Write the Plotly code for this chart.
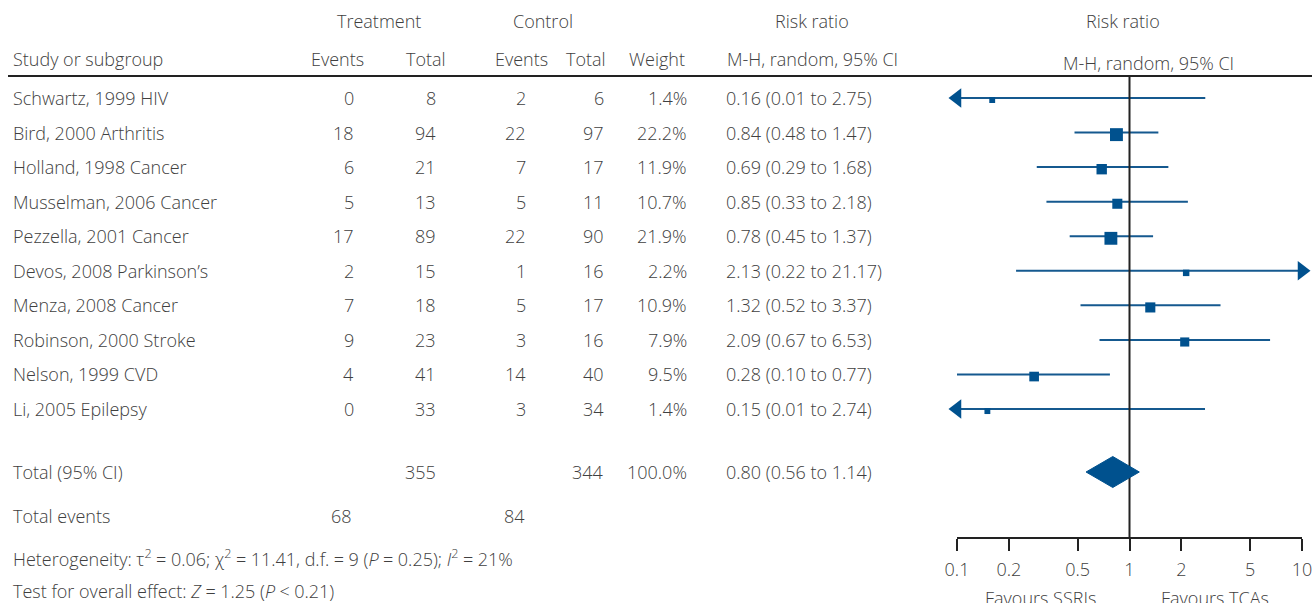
import numpy as np
import plotly.graph_objects as go

# ---------------- data ----------------
studies = ["Schwartz, 1999 HIV", "Bird, 2000 Arthritis", "Holland, 1998 Cancer",
           "Musselman, 2006 Cancer", "Pezzella, 2001 Cancer", "Devos, 2008 Parkinson\u2019s",
           "Menza, 2008 Cancer", "Robinson, 2000 Stroke", "Nelson, 1999 CVD", "Li, 2005 Epilepsy"]
t_events = [0, 18, 6, 5, 17, 2, 7, 9, 4, 0]
t_total = [8, 94, 21, 13, 89, 15, 18, 23, 41, 33]
c_events = [2, 22, 7, 5, 22, 1, 5, 3, 14, 3]
c_total = [6, 97, 17, 11, 90, 16, 17, 16, 40, 34]
weights = [1.4, 22.2, 11.9, 10.7, 21.9, 2.2, 10.9, 7.9, 9.5, 1.4]
rr = [0.16, 0.84, 0.69, 0.85, 0.78, 2.13, 1.32, 2.09, 0.28, 0.15]
ci_lo = [0.01, 0.48, 0.29, 0.33, 0.45, 0.22, 0.52, 0.67, 0.10, 0.01]
ci_hi = [2.75, 1.47, 1.68, 2.18, 1.37, 21.17, 3.37, 6.53, 0.77, 2.74]

total_t, total_c, total_w = 355, 344, 100.0
total_rr, total_lo, total_hi = 0.80, 0.56, 1.14
total_events_t, total_events_c = 68, 84

tick_vals = [0.1, 0.2, 0.5, 1, 2, 5, 10]
tick_text = ["0.1", "0.2", "0.5", "1", "2", "5", "10"]
axis_min, axis_max = 0.1, 10

# ---------------- layout constants ----------------
W, H = 1312, 603
ROW0_PX, ROW_PX = 98.0, 34.56


def row(p):
    return (p - ROW0_PX) / ROW_PX


def px(x):
    return x / W


TXT = "#404040"
BLUE = "#00518e"
LINE_BLUE = "#15598f"
FONT = dict(family="Open Sans, Lato, sans-serif", size=18, color=TXT, weight=300)

n = len(studies)
rows = list(range(n))
r_total = row(472)
r_events = row(516)
r_het = row(558)
r_test = row(591)
r_h2 = row(59)
r_h1 = row(21)
r_rule = row(76)
r_axis = row(538)

fig = go.Figure()

# CI lines (clipped at axis limits)
for i in range(n):
    lo = max(ci_lo[i], axis_min)
    hi = min(ci_hi[i], axis_max)
    fig.add_trace(go.Scatter(x=[lo, hi], y=[rows[i], rows[i]], mode="lines",
                             line=dict(color=LINE_BLUE, width=2), hoverinfo="skip",
                             showlegend=False))

# arrowheads for truncated CIs
left_r = [rows[i] for i in range(n) if ci_lo[i] < axis_min]
right_r = [rows[i] for i in range(n) if ci_hi[i] > axis_max]
fig.add_trace(go.Scatter(x=[axis_min] * len(left_r), y=left_r, mode="markers",
                         marker=dict(symbol="triangle-left", size=17, color=BLUE, opacity=1),
                         cliponaxis=False, showlegend=False, hoverinfo="skip"))
fig.add_trace(go.Scatter(x=[axis_max] * len(right_r), y=right_r, mode="markers",
                         marker=dict(symbol="triangle-right", size=17, color=BLUE, opacity=1),
                         cliponaxis=False, showlegend=False, hoverinfo="skip"))

# point estimates (square size from weight)
sizes = [3.5 + 2.0 * np.sqrt(w) for w in weights]
fig.add_trace(go.Scatter(x=rr, y=[r + 0.06 for r in rows], mode="markers",
                         marker=dict(symbol="square", size=sizes, color=BLUE, opacity=1,
                                     line=dict(width=0)),
                         cliponaxis=False, showlegend=False, hoverinfo="skip"))

# line of no effect
fig.add_trace(go.Scatter(x=[1, 1], y=[r_rule, r_axis], mode="lines",
                         line=dict(color="#222222", width=2), hoverinfo="skip",
                         showlegend=False))

# pooled diamond
dh = 15.5 / ROW_PX
fig.add_trace(go.Scatter(x=[total_lo, total_rr, total_hi, total_rr, total_lo],
                         y=[r_total, r_total - dh, r_total, r_total + dh, r_total],
                         mode="lines", fill="toself", fillcolor=BLUE,
                         line=dict(color=BLUE, width=1), hoverinfo="skip",
                         showlegend=False))

ann = []


def txt(x, y, s, anchor="left", **kw):
    ann.append(dict(x=px(x), y=y, xref="paper", yref="y", text=s, showarrow=False,
                    xanchor=anchor, yanchor="middle", font=FONT, borderpad=0, **kw))


# headers
txt(379, r_h1, "Treatment", "center")
txt(543, r_h1, "Control", "center")
txt(812, r_h1, "Risk ratio", "center")
txt(1123, r_h1, "Risk ratio", "center")
txt(12, r_h2, "Study or subgroup")
txt(337, r_h2, "Events", "center")
txt(426, r_h2, "Total", "center")
txt(521, r_h2, "Events", "center")
txt(586, r_h2, "Total", "center")
txt(657, r_h2, "Weight", "center")
txt(812, r_h2, "M-H, random, 95% CI", "center")
txt(1148, row(63), "M-H, random, 95% CI", "center")

# study rows
for i in range(n):
    r = rows[i]
    txt(12, r, studies[i])
    txt(355, r, str(t_events[i]), "right")
    txt(437, r, str(t_total[i]), "right")
    txt(527, r, str(c_events[i]), "right")
    txt(605, r, str(c_total[i]), "right")
    txt(688, r, f"{weights[i]:.1f}%", "right")
    txt(725, r, f"{rr[i]:.2f} ({ci_lo[i]:.2f} to {ci_hi[i]:.2f})")

# totals
txt(12, r_total, "Total (95% CI)")
txt(437, r_total, str(total_t), "right")
txt(605, r_total, str(total_c), "right")
txt(688, r_total, f"{total_w:.1f}%", "right")
txt(725, r_total, f"{total_rr:.2f} ({total_lo:.2f} to {total_hi:.2f})")
txt(12, r_events, "Total events")
txt(353, r_events, str(total_events_t), "right")
txt(526, r_events, str(total_events_c), "right")
ts = "\u2005"
txt(12, r_het, f"Heterogeneity: \u03c4<sup>2</sup>{ts}={ts}0.06; \u03c7<sup>2</sup>{ts}={ts}11.41, "
               f"d.f.{ts}={ts}9 (<i>P</i>{ts}={ts}0.25); <i>I</i><sup>2</sup>{ts}={ts}21%")
txt(12, r_test, f"Test for overall effect: <i>Z</i>{ts}={ts}1.25 (<i>P</i>{ts}&lt;{ts}0.21)")
txt(1040, row(598), "Favours SSRIs", "center")
txt(1215, row(598), "Favours TCAs", "center")

shapes = [dict(type="line", xref="paper", yref="y", x0=px(8), x1=1.0, y0=r_rule, y1=r_rule,
               line=dict(color="#222222", width=2))]

fig.update_layout(
    width=W, height=H, margin=dict(l=0, r=0, t=0, b=0, autoexpand=False),
    paper_bgcolor="white", plot_bgcolor="rgba(0,0,0,0)",
    annotations=ann, shapes=shapes, font=FONT,
    xaxis=dict(type="log", domain=[px(957), px(1302)], range=[-1, 1],
               anchor="free", position=1 - 538 / H, automargin=False,
               showline=True, linecolor="#222222", linewidth=2,
               ticks="outside", ticklen=12, tickwidth=2, tickcolor="#222222",
               ticklabelstandoff=3, ticklabeloverflow="allow",
               tickvals=tick_vals, ticktext=tick_text, showgrid=False, zeroline=False,
               tickfont=FONT, fixedrange=True),
    yaxis=dict(range=[(H - ROW0_PX) / ROW_PX, -ROW0_PX / ROW_PX], domain=[0, 1],
               visible=False, fixedrange=True, automargin=False),
)

fig.write_html("out.html")
